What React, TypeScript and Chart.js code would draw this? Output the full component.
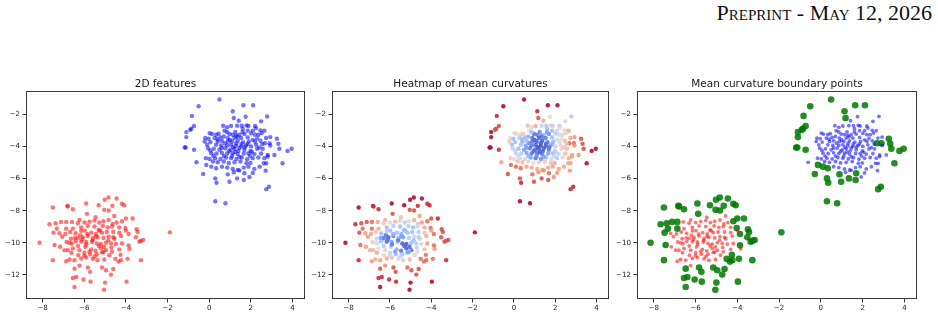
import React, { useEffect, useRef } from "react";
import { Chart, registerables } from "chart.js";

Chart.register(...registerables);

const HEADER = "Preprint - May 12, 2026";
const TITLES = ["2D features", "Heatmap of mean curvatures", "Mean curvature boundary points"];
const X_TICKS = [-8, -6, -4, -2, 0, 2, 4];
const Y_TICKS = [-12, -10, -8, -6, -4, -2];
const X_RANGE = [-8.8, 4.6];
const Y_RANGE = [-13.5, -0.55];
const BOUNDARY_THRESHOLD = 0.8;

// [x, y, mean curvature (0..1, normalised)]
const BLUE_POINTS: [number, number, number][] = [
  [0.49, -1.08, 1.0], [-0.51, -1.5, 1.0], [1.64, -1.44, 1.0], [2.11, -1.44, 1.0],
  [1.13, -1.81, 0.95], [-0.83, -2.1, 0.95], [1.18, -2.23, 0.9], [1.75, -2.15, 0.5],
  [2.78, -2.13, 0.35], [1.42, -2.4, 0.7], [2.49, -2.44, 0.55], [-0.73, -2.73, 0.9],
  [-0.86, -2.9, 0.9], [-0.91, -2.96, 0.9], [0.67, -2.71, 0.65], [0.86, -2.81, 0.55],
  [1.05, -2.73, 0.7], [1.34, -2.71, 0.4], [1.56, -2.71, 0.35], [1.79, -2.69, 0.4],
  [1.88, -2.73, 0.6], [2.2, -2.73, 0.35], [2.25, -2.86, 0.5], [2.65, -3.02, 0.72],
  [2.52, -3.17, 0.55], [0.73, -3.02, 0.5], [1.61, -2.9, 0.3], [1.85, -3.02, 0.3],
  [2.09, -3.02, 0.45], [2.46, -3.0, 0.55], [2.93, -3.42, 0.76], [-1.1, -3.11, 1.0],
  [-1.1, -3.42, 1.0], [0.02, -3.17, 0.55], [0.13, -3.23, 0.55], [0.45, -3.21, 0.6],
  [0.33, -3.27, 0.62], [0.97, -3.23, 0.1], [1.13, -3.27, 0.1], [1.29, -3.32, 0.2],
  [1.45, -3.27, 0.3], [1.69, -3.23, 0.15], [2.01, -3.19, 0.35], [2.2, -3.27, 0.45],
  [2.36, -3.27, 0.55], [-0.19, -3.48, 0.5], [-0.03, -3.52, 0.3], [0.26, -3.48, 0.35],
  [0.54, -3.44, 0.3], [0.7, -3.38, 0.25], [0.89, -3.48, 0.08], [1.21, -3.48, 0.05],
  [1.53, -3.48, 0.1], [1.85, -3.44, 0.3], [2.09, -3.59, 0.45], [2.73, -3.48, 0.72],
  [3.25, -3.52, 0.9], [-0.22, -3.69, 0.6], [0.06, -3.73, 0.3], [0.41, -3.69, 0.25],
  [0.61, -3.65, 0.3], [0.89, -3.69, 0.1], [1.1, -3.69, 0.05], [1.37, -3.65, 0.05],
  [1.63, -3.73, 0.1], [1.9, -3.69, 0.3], [2.2, -3.69, 0.5], [2.46, -3.65, 0.65],
  [2.68, -3.8, 0.85], [2.9, -3.8, 0.85], [3.32, -3.84, 0.9], [-0.1, -3.9, 0.3],
  [0.33, -3.9, 0.3], [0.57, -3.94, 0.2], [0.86, -3.94, 0.1], [1.05, -3.9, 0.05],
  [1.29, -3.96, 0.03], [1.53, -4.0, 0.08], [1.77, -3.94, 0.2], [2.01, -4.0, 0.4],
  [2.25, -3.9, 0.55], [2.41, -4.07, 0.65], [2.93, -3.94, 0.76], [-1.18, -4.07, 1.0],
  [-1.13, -4.07, 1.0], [-0.06, -4.11, 0.4], [0.22, -4.15, 0.3], [0.49, -4.21, 0.2],
  [0.77, -4.11, 0.1], [1.02, -4.21, 0.05], [1.21, -4.15, 0.03], [1.4, -4.28, 0.05],
  [1.69, -4.21, 0.1], [1.98, -4.28, 0.35], [2.3, -4.15, 0.55], [2.57, -4.15, 0.65],
  [3.37, -4.15, 0.9], [3.76, -4.28, 1.0], [3.96, -4.15, 1.0], [-0.73, -4.21, 0.95],
  [0.1, -4.42, 0.4], [0.35, -4.44, 0.35], [0.61, -4.4, 0.2], [0.86, -4.44, 0.1],
  [1.13, -4.42, 0.08], [1.37, -4.48, 0.1], [1.66, -4.44, 0.2], [1.88, -4.44, 0.3],
  [2.17, -4.48, 0.4], [2.49, -4.44, 0.65], [2.81, -4.53, 0.72], [3.13, -4.53, 0.76],
  [-0.16, -4.73, 0.6], [0.02, -4.78, 0.5], [0.29, -4.73, 0.45], [0.54, -4.78, 0.45],
  [0.81, -4.69, 0.2], [1.05, -4.73, 0.1], [1.31, -4.78, 0.15], [1.56, -4.69, 0.3],
  [1.82, -4.8, 0.45], [2.09, -4.73, 0.35], [2.36, -4.69, 0.55], [2.65, -4.73, 0.7],
  [2.81, -4.63, 0.72], [0.18, -4.94, 0.65], [0.41, -4.99, 0.65], [0.7, -4.94, 0.55],
  [0.94, -5.03, 0.5], [1.21, -4.99, 0.55], [1.5, -4.94, 0.6], [1.79, -5.05, 0.65],
  [1.98, -5.03, 0.7], [2.62, -5.05, 0.72], [2.74, -5.05, 0.72], [3.52, -5.05, 1.0],
  [-0.61, -4.99, 0.72], [-0.14, -5.15, 0.85], [0.1, -5.26, 0.85], [0.33, -5.36, 0.85],
  [0.61, -5.26, 0.72], [0.86, -5.32, 0.72], [1.13, -5.4, 0.72], [1.37, -5.47, 0.74],
  [1.66, -5.32, 0.72], [1.88, -5.26, 0.72], [2.17, -5.4, 0.74], [2.42, -5.26, 0.72],
  [2.71, -5.51, 0.76], [-0.29, -5.72, 0.9], [0.89, -5.74, 0.85], [1.18, -5.61, 0.76],
  [1.45, -5.49, 0.76], [1.69, -5.67, 0.85], [2.09, -5.65, 0.76], [0.29, -5.99, 0.9],
  [0.35, -6.26, 0.95], [1.34, -5.99, 0.9], [1.93, -5.9, 0.77], [1.66, -6.09, 0.9],
  [0.97, -6.2, 0.9], [2.74, -6.66, 0.95], [2.87, -6.51, 0.95], [0.29, -7.41, 1.0],
  [0.78, -7.54, 1.0],
  [1.0, -3.6, 0.05], [1.3, -3.8, 0.03], [1.15, -4.05, 0.03], [1.45, -4.1, 0.05],
  [0.95, -4.3, 0.08], [1.25, -4.35, 0.05], [1.55, -3.85, 0.05], [0.75, -3.8, 0.15],
  [1.7, -4.05, 0.1], [1.35, -3.4, 0.1], [0.6, -4.1, 0.2], [1.85, -3.85, 0.25],
  [1.1, -4.6, 0.15], [1.45, -4.65, 0.2], [0.4, -3.55, 0.3], [2.05, -4.35, 0.4],
  [0.85, -3.1, 0.3], [1.6, -3.1, 0.2], [0.2, -4.6, 0.45], [2.3, -3.5, 0.5],
  [1.95, -4.6, 0.4], [0.7, -4.6, 0.25], [1.25, -3.1, 0.15], [2.55, -3.85, 0.65],
  [0.05, -4.25, 0.4],
];

const RED_POINTS: [number, number, number][] = [
  [-4.84, -7.18, 1.0], [-5.02, -7.32, 1.0], [-4.45, -7.24, 1.0], [-5.31, -7.66, 1.0],
  [-4.65, -7.7, 0.95], [-4.19, -7.57, 0.95], [-4.08, -7.66, 0.95], [-5.91, -7.55, 1.0],
  [-6.79, -7.74, 0.95], [-6.82, -7.7, 0.95], [-7.51, -7.8, 1.0], [-6.55, -7.91, 0.95],
  [-5.04, -7.95, 0.9], [-4.83, -7.99, 0.9], [-5.87, -8.2, 0.9], [-5.46, -8.41, 0.65],
  [-4.56, -8.33, 0.74], [-4.0, -8.49, 0.9], [-3.68, -8.49, 0.95], [-4.19, -8.66, 0.85],
  [-7.67, -8.85, 0.95], [-7.38, -8.78, 0.9], [-7.12, -8.7, 0.9], [-6.87, -8.7, 0.85],
  [-6.59, -8.7, 0.72], [-6.23, -8.58, 0.7], [-6.31, -8.78, 0.6], [-5.99, -8.74, 0.55],
  [-5.75, -8.68, 0.65], [-5.51, -8.62, 0.55], [-5.28, -8.74, 0.4], [-5.08, -8.66, 0.55],
  [-4.83, -8.58, 0.7], [-4.64, -8.83, 0.65], [-4.45, -8.74, 0.74], [-5.11, -8.95, 0.35],
  [-4.88, -9.04, 0.3], [-4.67, -8.99, 0.45], [-4.32, -9.04, 0.7], [-4.03, -9.08, 0.85],
  [-3.49, -9.16, 0.9], [-3.44, -9.33, 0.9], [-7.32, -9.12, 0.85], [-6.87, -9.12, 0.85],
  [-6.55, -9.12, 0.7], [-6.15, -9.04, 0.3], [-5.83, -8.95, 0.35], [-5.51, -8.99, 0.3],
  [-5.31, -9.2, 0.25], [-7.48, -9.37, 0.9], [-7.19, -9.41, 0.74], [-6.91, -9.45, 0.72],
  [-6.68, -9.33, 0.65], [-6.42, -9.41, 0.3], [-6.2, -9.53, 0.1], [-5.98, -9.24, 0.3],
  [-5.66, -9.37, 0.3], [-5.44, -9.45, 0.25], [-5.15, -9.37, 0.3], [-4.92, -9.33, 0.3],
  [-4.61, -9.33, 0.35], [-4.32, -9.37, 0.65], [-4.0, -9.24, 0.74], [-3.87, -9.45, 0.85],
  [-3.28, -9.87, 0.9], [-3.17, -9.83, 0.9], [-7.06, -9.62, 0.74], [-6.64, -9.75, 0.4],
  [-6.31, -9.72, 0.08], [-6.07, -9.66, 0.05], [-5.83, -9.58, 0.15], [-5.59, -9.72, 0.25],
  [-5.36, -9.66, 0.2], [-5.08, -9.7, 0.35], [-4.83, -9.62, 0.4], [-4.61, -9.66, 0.35],
  [-4.24, -9.58, 0.7], [-3.52, -9.66, 0.9], [-3.36, -9.93, 0.9], [-7.43, -10.14, 0.85],
  [-7.16, -10.25, 0.74], [-6.71, -10.0, 0.5], [-6.42, -9.91, 0.3], [-6.15, -9.93, 0.08],
  [-5.91, -9.95, 0.2], [-5.63, -9.95, 0.35], [-5.4, -10.04, 0.05], [-5.2, -10.08, 0.05],
  [-4.96, -10.0, 0.3], [-4.72, -10.04, 0.35], [-4.48, -10.08, 0.55], [-4.19, -10.04, 0.74],
  [-3.87, -10.16, 0.85], [-8.15, -10.0, 1.0], [-6.95, -10.46, 0.7], [-6.79, -10.46, 0.65],
  [-6.55, -10.35, 0.5], [-6.23, -10.46, 0.55], [-5.95, -10.25, 0.35], [-5.67, -10.41, 0.25],
  [-5.46, -10.5, 0.1], [-5.2, -10.35, 0.05], [-4.96, -10.46, 0.1], [-4.67, -10.56, 0.5],
  [-4.32, -10.41, 0.65], [-3.84, -10.37, 0.77], [-6.62, -10.62, 0.7], [-6.29, -10.77, 0.55],
  [-5.99, -10.62, 0.4], [-5.72, -10.71, 0.3], [-5.4, -10.71, 0.3], [-5.08, -10.58, 0.25],
  [-4.8, -10.77, 0.55], [-4.51, -11.0, 0.85], [-4.24, -11.08, 0.85], [-4.35, -11.17, 0.85],
  [-4.26, -10.75, 0.85], [-3.92, -11.0, 0.85], [-3.28, -11.08, 0.95], [-7.51, -11.08, 0.95],
  [-6.87, -11.15, 0.74], [-6.71, -11.04, 0.7], [-6.47, -11.08, 0.74], [-6.15, -10.98, 0.7],
  [-5.91, -10.92, 0.65], [-5.59, -11.0, 0.55], [-5.36, -11.08, 0.6], [-5.04, -11.04, 0.65],
  [-6.47, -11.61, 0.9], [-6.23, -11.42, 0.77], [-5.83, -11.54, 0.9], [-5.72, -11.81, 0.9],
  [-5.15, -11.54, 0.85], [-4.96, -11.71, 0.9], [-4.61, -11.63, 0.9], [-4.72, -11.98, 0.9],
  [-6.55, -12.19, 0.95], [-6.39, -12.13, 0.95], [-6.04, -12.29, 0.95], [-5.7, -12.42, 0.95],
  [-5.0, -12.48, 1.0], [-3.97, -12.42, 1.0], [-6.47, -12.75, 1.0], [-5.05, -12.92, 1.0],
  [-1.89, -9.35, 1.0],
  [-5.6, -9.85, 0.1], [-5.3, -10.2, 0.05], [-5.9, -10.1, 0.1], [-6.1, -9.8, 0.08],
  [-5.05, -10.25, 0.05], [-5.75, -10.55, 0.2], [-6.45, -9.7, 0.2], [-5.45, -9.6, 0.2],
  [-4.85, -9.85, 0.3], [-6.3, -10.2, 0.35], [-5.15, -10.6, 0.2], [-5.85, -9.45, 0.25],
  [-6.6, -10.05, 0.45], [-4.7, -10.3, 0.4], [-5.5, -10.85, 0.4], [-6.0, -10.8, 0.45],
  [-5.25, -9.25, 0.3], [-6.15, -9.25, 0.35], [-4.55, -9.75, 0.4], [-6.85, -9.95, 0.55],
];

// matplotlib "coolwarm" colour stops
const COOLWARM: [number, number, number, number][] = [
  [0, 59, 76, 192], [0.125, 98, 130, 234], [0.25, 141, 176, 254], [0.375, 184, 208, 249],
  [0.5, 221, 221, 221], [0.625, 245, 196, 173], [0.75, 244, 154, 123], [0.875, 222, 96, 77],
  [1, 180, 4, 38],
];

function coolwarm(t: number, alpha: number): string {
  const v = Math.max(0, Math.min(1, t));
  for (let i = 1; i < COOLWARM.length; i++) {
    const a = COOLWARM[i - 1];
    const b = COOLWARM[i];
    if (v <= b[0]) {
      const f = (v - a[0]) / (b[0] - a[0]);
      const r = Math.round(a[1] + (b[1] - a[1]) * f);
      const g = Math.round(a[2] + (b[2] - a[2]) * f);
      const bl = Math.round(a[3] + (b[3] - a[3]) * f);
      return `rgba(${r},${g},${bl},${alpha})`;
    }
  }
  return `rgba(180,4,38,${alpha})`;
}

const toXY = (pts: [number, number, number][]) => pts.map((p) => ({ x: p[0], y: p[1] }));

const fmt = (v: number | string) => {
  const n = Number(v);
  return n < 0 ? "\u2212" + Math.abs(n) : String(n);
};

const framePlugin = {
  id: "frame",
  afterDraw(chart: any) {
    const { ctx, chartArea } = chart;
    const { left, top, right, bottom } = chartArea;
    ctx.save();
    ctx.strokeStyle = "#3a3a3a";
    ctx.lineWidth = 1;
    ctx.strokeRect(left + 0.5, top + 0.5, right - left - 1, bottom - top - 1);
    ctx.restore();
  },
};

const TICK_FONT = { family: "DejaVu Sans", size: 7.1 };

function buildOptions(title: string) {
  return {
    animation: false,
    responsive: false,
    devicePixelRatio: 1,
    events: [],
    layout: { padding: { left: 0, right: 3, top: 0, bottom: 0 }, autoPadding: false },
    plugins: {
      legend: { display: false },
      tooltip: { enabled: false },
      title: {
        display: true,
        text: title,
        fullSize: false,
        color: "#1a1a1a",
        font: { family: "DejaVu Sans", size: 10.5, weight: "normal" },
        padding: { top: 8.4, bottom: 0 },
      },
    },
    scales: {
      x: {
        type: "linear",
        min: X_RANGE[0],
        max: X_RANGE[1],
        afterBuildTicks: (axis: any) => {
          axis.ticks = X_TICKS.map((v) => ({ value: v }));
        },
        afterFit: (axis: any) => {
          axis.height = 19;
        },
        grid: { display: true, drawOnChartArea: false, drawTicks: true, tickLength: 3.5, color: "#3a3a3a" },
        border: { display: false },
        ticks: { font: TICK_FONT, color: "#1e1e1e", padding: 1.5, maxRotation: 0, autoSkip: false, callback: fmt },
      },
      y: {
        type: "linear",
        min: Y_RANGE[0],
        max: Y_RANGE[1],
        afterBuildTicks: (axis: any) => {
          axis.ticks = Y_TICKS.map((v) => ({ value: v }));
        },
        afterFit: (axis: any) => {
          axis.width = 26;
        },
        grid: { display: true, drawOnChartArea: false, drawTicks: true, tickLength: 3.5, color: "#3a3a3a" },
        border: { display: false },
        ticks: { font: TICK_FONT, color: "#1e1e1e", padding: 2.5, autoSkip: false, callback: fmt },
      },
    },
  };
}

function panelDatasets(kind: number): any[] {
  if (kind === 0) {
    return [
      { data: toXY(BLUE_POINTS), backgroundColor: "rgba(0,0,255,0.55)", pointRadius: 2.2, borderWidth: 0 },
      { data: toXY(RED_POINTS), backgroundColor: "rgba(255,0,0,0.55)", pointRadius: 2.2, borderWidth: 0 },
    ];
  }
  if (kind === 1) {
    const all = [...BLUE_POINTS, ...RED_POINTS];
    return [
      {
        data: toXY(all),
        backgroundColor: all.map((p) => coolwarm(p[2], 0.88)),
        pointRadius: 2.2,
        borderWidth: 0,
      },
    ];
  }
  const blueIn = BLUE_POINTS.filter((p) => p[2] < BOUNDARY_THRESHOLD);
  const redIn = RED_POINTS.filter((p) => p[2] < BOUNDARY_THRESHOLD);
  const boundary = [...BLUE_POINTS, ...RED_POINTS].filter((p) => p[2] >= BOUNDARY_THRESHOLD);
  return [
    { data: toXY(blueIn), backgroundColor: "rgba(0,0,255,0.55)", pointRadius: 1.9, borderWidth: 0 },
    { data: toXY(redIn), backgroundColor: "rgba(255,0,0,0.55)", pointRadius: 1.9, borderWidth: 0 },
    { data: toXY(boundary), backgroundColor: "rgba(0,120,0,0.85)", pointRadius: 3.3, borderWidth: 0 },
  ];
}

function Panel({ left, width, kind }: { left: number; width: number; kind: number }) {
  const ref = useRef<HTMLCanvasElement>(null);
  useEffect(() => {
    if (!ref.current) return;
    const chart = new Chart(ref.current, {
      type: "scatter",
      data: { datasets: panelDatasets(kind) },
      options: buildOptions(TITLES[kind]) as any,
      plugins: [framePlugin],
    });
    return () => chart.destroy();
  }, [kind]);
  return (
    <canvas
      ref={ref}
      width={width}
      height={248}
      style={{ position: "absolute", left, top: 70, width, height: 248 }}
    />
  );
}

export default function App() {
  return (
    <div
      style={{
        position: "absolute",
        left: 0,
        top: 0,
        width: 938,
        height: 318,
        overflow: "hidden",
        background: "#fff",
      }}
    >
      <div
        style={{
          position: "absolute",
          right: 6,
          top: 2,
          fontFamily: "'Liberation Serif', 'DejaVu Serif', serif",
          fontSize: 22,
          lineHeight: "21px",
          fontVariant: "small-caps",
          color: "#111",
          whiteSpace: "nowrap",
        }}
      >
        {HEADER}
      </div>
      <Panel left={0} width={308} kind={0} />
      <Panel left={306} width={306} kind={1} />
      <Panel left={611} width={309} kind={2} />
    </div>
  );
}
